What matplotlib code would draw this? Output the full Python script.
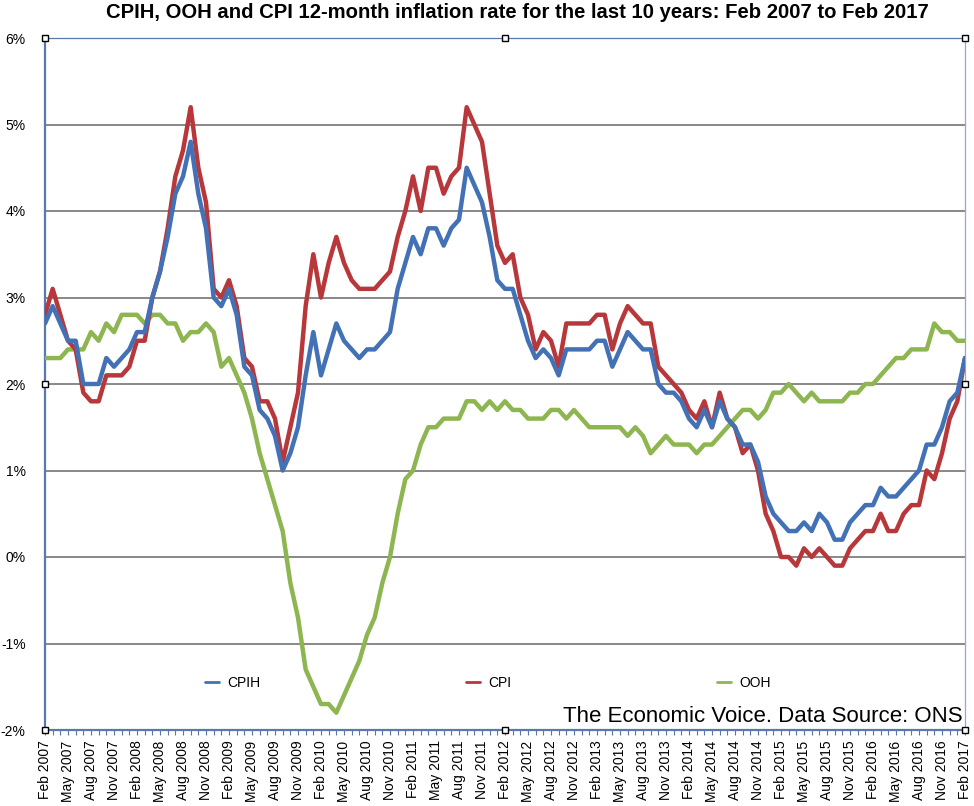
import matplotlib
matplotlib.use('Agg')
import matplotlib.pyplot as plt
from matplotlib.ticker import MultipleLocator, FixedLocator, FuncFormatter
import pandas as pd

plt.rcParams['font.family'] = ['Liberation Sans', 'DejaVu Sans']

# monthly 12-month rates, Feb 2007 .. Feb 2017 (%)
cpih = [2.7, 2.9, 2.7, 2.5, 2.5, 2.0, 2.0, 2.0, 2.3, 2.2, 2.3,
        2.4, 2.6, 2.6, 3.0, 3.3, 3.7, 4.2, 4.4, 4.8, 4.2, 3.8, 3.0,
        2.9, 3.1, 2.8, 2.2, 2.1, 1.7, 1.6, 1.4, 1.0, 1.2, 1.5, 2.1,
        2.6, 2.1, 2.4, 2.7, 2.5, 2.4, 2.3, 2.4, 2.4, 2.5, 2.6, 3.1,
        3.4, 3.7, 3.5, 3.8, 3.8, 3.6, 3.8, 3.9, 4.5, 4.3, 4.1, 3.7,
        3.2, 3.1, 3.1, 2.8, 2.5, 2.3, 2.4, 2.3, 2.1, 2.4, 2.4, 2.4,
        2.4, 2.5, 2.5, 2.2, 2.4, 2.6, 2.5, 2.4, 2.4, 2.0, 1.9, 1.9,
        1.8, 1.6, 1.5, 1.7, 1.5, 1.8, 1.6, 1.5, 1.3, 1.3, 1.1, 0.7,
        0.5, 0.4, 0.3, 0.3, 0.4, 0.3, 0.5, 0.4, 0.2, 0.2, 0.4, 0.5,
        0.6, 0.6, 0.8, 0.7, 0.7, 0.8, 0.9, 1.0, 1.3, 1.3, 1.5, 1.8,
        1.9, 2.3]

cpi = [2.8, 3.1, 2.8, 2.5, 2.4, 1.9, 1.8, 1.8, 2.1, 2.1, 2.1,
       2.2, 2.5, 2.5, 3.0, 3.3, 3.8, 4.4, 4.7, 5.2, 4.5, 4.1, 3.1,
       3.0, 3.2, 2.9, 2.3, 2.2, 1.8, 1.8, 1.6, 1.1, 1.5, 1.9, 2.9,
       3.5, 3.0, 3.4, 3.7, 3.4, 3.2, 3.1, 3.1, 3.1, 3.2, 3.3, 3.7,
       4.0, 4.4, 4.0, 4.5, 4.5, 4.2, 4.4, 4.5, 5.2, 5.0, 4.8, 4.2,
       3.6, 3.4, 3.5, 3.0, 2.8, 2.4, 2.6, 2.5, 2.2, 2.7, 2.7, 2.7,
       2.7, 2.8, 2.8, 2.4, 2.7, 2.9, 2.8, 2.7, 2.7, 2.2, 2.1, 2.0,
       1.9, 1.7, 1.6, 1.8, 1.5, 1.9, 1.6, 1.5, 1.2, 1.3, 1.0, 0.5,
       0.3, 0.0, 0.0, -0.1, 0.1, 0.0, 0.1, 0.0, -0.1, -0.1, 0.1, 0.2,
       0.3, 0.3, 0.5, 0.3, 0.3, 0.5, 0.6, 0.6, 1.0, 0.9, 1.2, 1.6,
       1.8, 2.3]

ooh = [2.3, 2.3, 2.3, 2.4, 2.4, 2.4, 2.6, 2.5, 2.7, 2.6, 2.8,
       2.8, 2.8, 2.7, 2.8, 2.8, 2.7, 2.7, 2.5, 2.6, 2.6, 2.7, 2.6,
       2.2, 2.3, 2.1, 1.9, 1.6, 1.2, 0.9, 0.6, 0.3, -0.3, -0.7, -1.3,
       -1.5, -1.7, -1.7, -1.8, -1.6, -1.4, -1.2, -0.9, -0.7, -0.3, 0.0, 0.5,
       0.9, 1.0, 1.3, 1.5, 1.5, 1.6, 1.6, 1.6, 1.8, 1.8, 1.7, 1.8,
       1.7, 1.8, 1.7, 1.7, 1.6, 1.6, 1.6, 1.7, 1.7, 1.6, 1.7, 1.6,
       1.5, 1.5, 1.5, 1.5, 1.5, 1.4, 1.5, 1.4, 1.2, 1.3, 1.4, 1.3,
       1.3, 1.3, 1.2, 1.3, 1.3, 1.4, 1.5, 1.6, 1.7, 1.7, 1.6, 1.7,
       1.9, 1.9, 2.0, 1.9, 1.8, 1.9, 1.8, 1.8, 1.8, 1.8, 1.9, 1.9,
       2.0, 2.0, 2.1, 2.2, 2.3, 2.3, 2.4, 2.4, 2.4, 2.7, 2.6, 2.6,
       2.5, 2.5]

months = pd.period_range('2007-02', '2017-02', freq='M')
month_labels = [p.strftime('%b %Y') for p in months]
x = list(range(len(months)))

axis_blue = '#5a78b0'

fig = plt.figure(figsize=(9.74, 8.06), dpi=100)
ax = fig.add_axes([45/974, 1 - 730/806, 920/974, 692/806])

l_ooh, = ax.plot(x, ooh, color='#8db650', lw=3.2, solid_capstyle='round', zorder=3)
l_cpi, = ax.plot(x, cpi, color='#b8373a', lw=3.2, solid_capstyle='round', zorder=4)
l_cpih, = ax.plot(x, cpih, color='#4371b6', lw=3.2, solid_capstyle='round', zorder=5)

ax.set_xlim(0, len(months) - 1)
ax.set_ylim(-2, 6)

# y axis
ax.yaxis.set_major_locator(MultipleLocator(1))
ax.yaxis.set_major_formatter(FuncFormatter(lambda v, p: '%d%%' % round(v)))
ax.tick_params(axis='y', length=0, pad=14, labelsize=10)
ax.grid(axis='y', color='#7f7f7f', lw=1.3, zorder=1)

# x axis: label every quarter, tick every month
ax.xaxis.set_major_locator(FixedLocator(x[::3]))
ax.set_xticklabels(month_labels[::3], rotation=90, fontsize=10)
ax.xaxis.set_minor_locator(MultipleLocator(1))
ax.tick_params(axis='x', which='both', direction='out', length=3.5,
               width=0.8, color=axis_blue, pad=4)

for side in ['left', 'bottom']:
    ax.spines[side].set_color(axis_blue)
    ax.spines[side].set_linewidth(1.6)
ax.spines['top'].set_color(axis_blue)
ax.spines['top'].set_linewidth(0.9)
ax.spines['right'].set_color('#8eaadb')
ax.spines['right'].set_linewidth(0.9)

# selection handles round the plot area
ax.plot([0, 0.5, 1, 0, 1, 0, 0.5, 1], [1, 1, 1, 0.5, 0.5, 0, 0, 0], 's',
        transform=ax.transAxes, ms=5, mfc='white', mec='black', mew=1,
        clip_on=False, zorder=10)

leg = ax.legend([l_cpih, l_cpi, l_ooh], ['CPIH', 'CPI', 'OOH'],
                loc='center', bbox_to_anchor=(0.174, 0.068, 0.615, 0),
                mode='expand', ncol=3, frameon=False, handlelength=1.0,
                handletextpad=0.6, borderpad=0, borderaxespad=0, fontsize=10)
for line in leg.get_lines():
    line.set_linewidth(2)

ax.text(0.997, 0.004, 'The Economic Voice. Data Source: ONS', transform=ax.transAxes,
        ha='right', va='bottom', fontsize=16, zorder=6)

fig.text(517/974, 1 - 13/806, 'CPIH, OOH and CPI 12-month inflation rate for the last 10 years: Feb 2007 to Feb 2017',
         ha='center', va='center', fontsize=14.6, fontweight='bold')

plt.savefig('out.png', dpi=100)
